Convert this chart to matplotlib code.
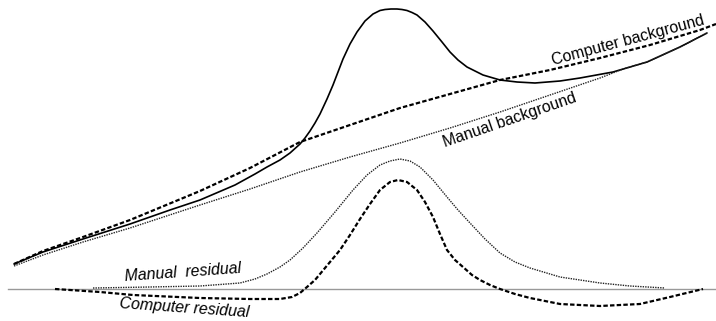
import numpy as np
import matplotlib
matplotlib.use('Agg')
import matplotlib.pyplot as plt

plt.rcParams['font.family'] = ['Liberation Sans', 'DejaVu Sans']

# Espectro medido (canal vs intensidad)
x_signal = [14, 43, 83, 130, 170, 200, 235, 255, 267, 280, 290, 300, 305, 310, 315, 320, 327, 333,
            338, 343, 350, 357, 365, 373, 380, 385, 391, 397, 402, 407, 412, 417, 425, 433, 442,
            450, 458, 467, 475, 483, 500, 517, 535, 560, 580, 613, 647, 680, 707]
y_signal = [57, 69, 82, 97, 111, 121, 136, 147, 154, 161, 168, 177, 183, 190, 198, 207, 222, 236,
            249, 262, 277, 289, 300, 307, 310.5, 311.5, 312, 312, 311.5, 310.5, 308.5, 306, 299,
            290, 279, 269, 261, 254, 250, 246, 241, 239, 238, 240, 243, 249, 259, 274, 288]

# Fondo calculado por el programa
x_comp_bg = [14, 43, 83, 130, 200, 250, 300, 350, 400, 450, 500, 550, 600, 650, 700, 716]
y_comp_bg = [57, 70, 84, 101, 130, 153, 179, 196, 213, 227, 241, 251, 263, 276, 291, 297]

# Fondo manual
x_man_bg = [14, 43, 83, 130, 200, 250, 300, 350, 400, 450, 500, 550, 600, 623, 647, 680, 707]
y_man_bg = [55, 66, 79, 93, 116, 132, 149, 164, 178, 193, 209, 226, 243, 252, 259, 274, 288]

# Residuos (desplazados sobre la linea base)
baseline = 32
x_comp_res = [55, 100, 133, 200, 250, 280, 292, 300, 307, 315, 325, 340, 350, 360, 370, 380, 390,
              398, 407, 417, 425, 433, 440, 447, 455, 463, 472, 480, 490, 500, 515, 530, 560,
              600, 640, 670, 703]
y_comp_res = [32, 29, 26, 23, 22, 22, 24, 28, 34, 41, 53, 71, 86, 102, 117, 131, 139,
              141, 139, 131, 119, 104, 87, 71, 61, 54, 46, 41, 36, 32, 27, 23, 17,
              15, 17, 24, 32]

x_man_res = [93, 150, 200, 240, 255, 267, 280, 290, 303, 317, 335, 353, 367, 380, 390, 400, 410,
             420, 433, 447, 458, 470, 485, 500, 515, 530, 560, 600, 630, 665]
y_man_res = [33, 34, 35, 38, 42, 47, 54, 61, 73, 88, 109, 131, 146, 156, 160, 162, 160,
             154, 141, 124, 111, 98, 82, 68, 59, 53, 44, 38, 35, 33]

fig = plt.figure(figsize=(7.16, 3.21), dpi=100)
ax = fig.add_axes([0, 0, 1, 1])
ax.set_xlim(0, 716)
ax.set_ylim(0, 321)
ax.axis('off')

ax.axhline(baseline, xmin=8 / 716, xmax=1, color='#999999', lw=1.0)

ax.plot(x_signal, y_signal, color='black', lw=1.2, solid_capstyle='round', solid_joinstyle='round')
ax.plot(x_comp_bg, y_comp_bg, color='black', lw=1.6, linestyle=(0, (2.0, 1.0)))
ax.plot(x_man_bg, y_man_bg, color='#222222', lw=1.0, linestyle=(0, (1.0, 0.8)))
ax.plot(x_comp_res, y_comp_res, color='black', lw=1.6, linestyle=(0, (2.0, 1.0)))
ax.plot(x_man_res, y_man_res, color='#222222', lw=1.0, linestyle=(0, (1.0, 0.8)))

fs = 11.4
ax.text(628, 281, 'Computer background', fontsize=fs, rotation=15,
        ha='center', va='center', rotation_mode='anchor')
ax.text(510, 201, 'Manual background', fontsize=fs, rotation=19,
        ha='center', va='center', rotation_mode='anchor')
ax.text(183, 49, 'Manual  residual', fontsize=fs, rotation=4, style='italic',
        ha='center', va='center', rotation_mode='anchor')
ax.text(184, 13, 'Computer residual', fontsize=fs, rotation=-4, style='italic',
        ha='center', va='center', rotation_mode='anchor')

fig.savefig('out.png', dpi=100)
